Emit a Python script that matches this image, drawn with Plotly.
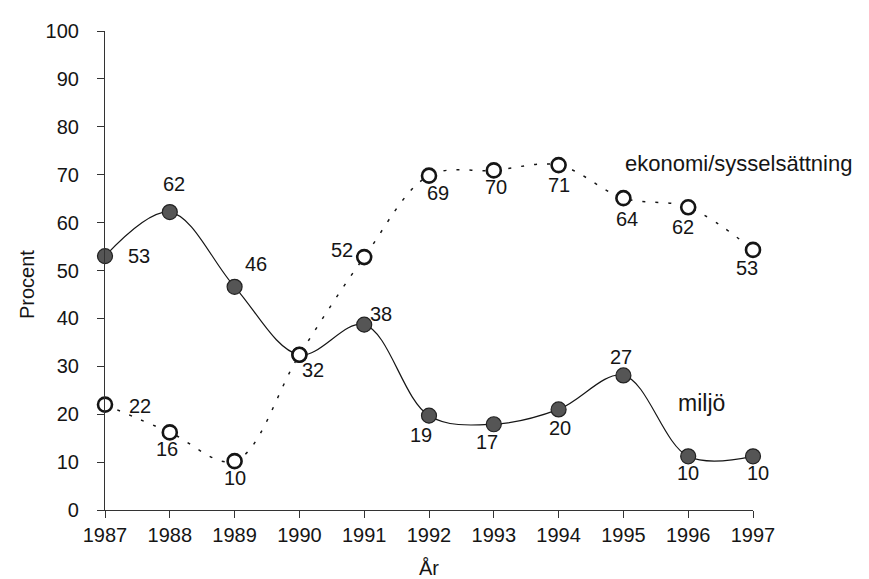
import plotly.graph_objects as go

years = [1987, 1988, 1989, 1990, 1991, 1992, 1993, 1994, 1995, 1996, 1997]

# miljö (filled markers, solid line)
miljo_values = [53.0, 62.2, 46.6, 32.4, 38.7, 19.7, 17.9, 21.0, 28.1, 11.2, 11.2]
miljo_labels = ["53", "62", "46", "", "38", "19", "17", "20", "27", "10", "10"]

# ekonomi/sysselsättning (open markers, dotted line)
ekonomi_values = [22.0, 16.2, 10.2, 32.4, 52.8, 69.8, 70.9, 72.0, 65.1, 63.2, 54.3]
ekonomi_labels = ["22", "16", "10", "32", "52", "69", "70", "71", "64", "62", "53"]

y_ticks = [0, 10, 20, 30, 40, 50, 60, 70, 80, 90, 100]

FONT = "Liberation Sans, Arial, Helvetica, sans-serif"
INK = "#151515"

# label placement relative to each marker (pixels: right, down)
miljo_offsets = [(34, -1), (4, -29), (21, -24), (0, 0), (17, -12), (-8, 18),
                 (-7, 17), (1, 18), (-2, -19), (0, 16), (5, 16)]
ekonomi_offsets = [(35, 0), (-3, 16), (0, 16), (14, 14), (-22, -8), (9, 16),
                   (2, 16), (0, 19), (4, 20), (-5, 19), (-6, 17)]

fig = go.Figure()

fig.add_trace(go.Scatter(
    x=years, y=miljo_values, mode="lines+markers",
    name="miljö",
    line=dict(color=INK, width=1.2, shape="spline", smoothing=1.0),
    marker=dict(size=15, color="#555555", line=dict(color="#222222", width=1.2)),
    cliponaxis=False, showlegend=False,
))

fig.add_trace(go.Scatter(
    x=years, y=ekonomi_values, mode="lines+markers",
    name="ekonomi/sysselsättning",
    line=dict(color=INK, width=1.5, shape="spline", smoothing=1.0, dash="3px,10px"),
    marker=dict(size=14, color="white", line=dict(color=INK, width=2.6)),
    cliponaxis=False, showlegend=False,
))

for xs, ys, labels, offs in [(years, miljo_values, miljo_labels, miljo_offsets),
                             (years, ekonomi_values, ekonomi_labels, ekonomi_offsets)]:
    for xv, yv, lab, (dx, dy) in zip(xs, ys, labels, offs):
        if not lab:
            continue
        fig.add_annotation(x=xv, y=yv, xref="x", yref="y", text=lab, showarrow=False,
                           xanchor="center", yanchor="middle", xshift=dx, yshift=-dy - 1,
                           font=dict(family=FONT, size=20, color=INK))

fig.add_annotation(x=1995.0, y=72.3, xref="x", yref="y", text="ekonomi/sysselsättning",
                   showarrow=False, xanchor="left", yanchor="middle",
                   font=dict(family=FONT, size=22, color=INK))
fig.add_annotation(x=1996.2, y=22.3, xref="x", yref="y", text="miljö",
                   showarrow=False, xanchor="center", yanchor="middle",
                   font=dict(family=FONT, size=23, color=INK))
fig.add_annotation(x=-0.12, y=0.47, xref="paper", yref="paper", text="Procent",
                   textangle=-90, showarrow=False, xanchor="center", yanchor="middle",
                   font=dict(family=FONT, size=20, color=INK))

fig.update_layout(
    width=869, height=579,
    margin=dict(l=97, r=124, t=22, b=76),
    paper_bgcolor="white", plot_bgcolor="white",
    font=dict(family=FONT, size=20, color=INK),
    xaxis=dict(
        range=[1987, 1997], tickmode="array", tickvals=years,
        ticktext=[str(y) for y in years],
        showline=True, linecolor="#333333", linewidth=1.2,
        ticks="outside", ticklen=7, tickcolor="#333333", tickwidth=1.2,
        showgrid=False, zeroline=False,
        tickfont=dict(family=FONT, size=20, color=INK),
        title=dict(text="År", font=dict(family=FONT, size=20, color=INK), standoff=15),
    ),
    yaxis=dict(
        range=[0, 100], tickmode="array", tickvals=y_ticks,
        showline=True, linecolor="#333333", linewidth=1.2,
        ticks="outside", ticklen=7, tickcolor="#333333", tickwidth=1.2,
        showgrid=False, zeroline=False,
        tickfont=dict(family=FONT, size=20, color=INK),
        ticklabelstandoff=14,
    ),
)

fig.write_html("out.html")
